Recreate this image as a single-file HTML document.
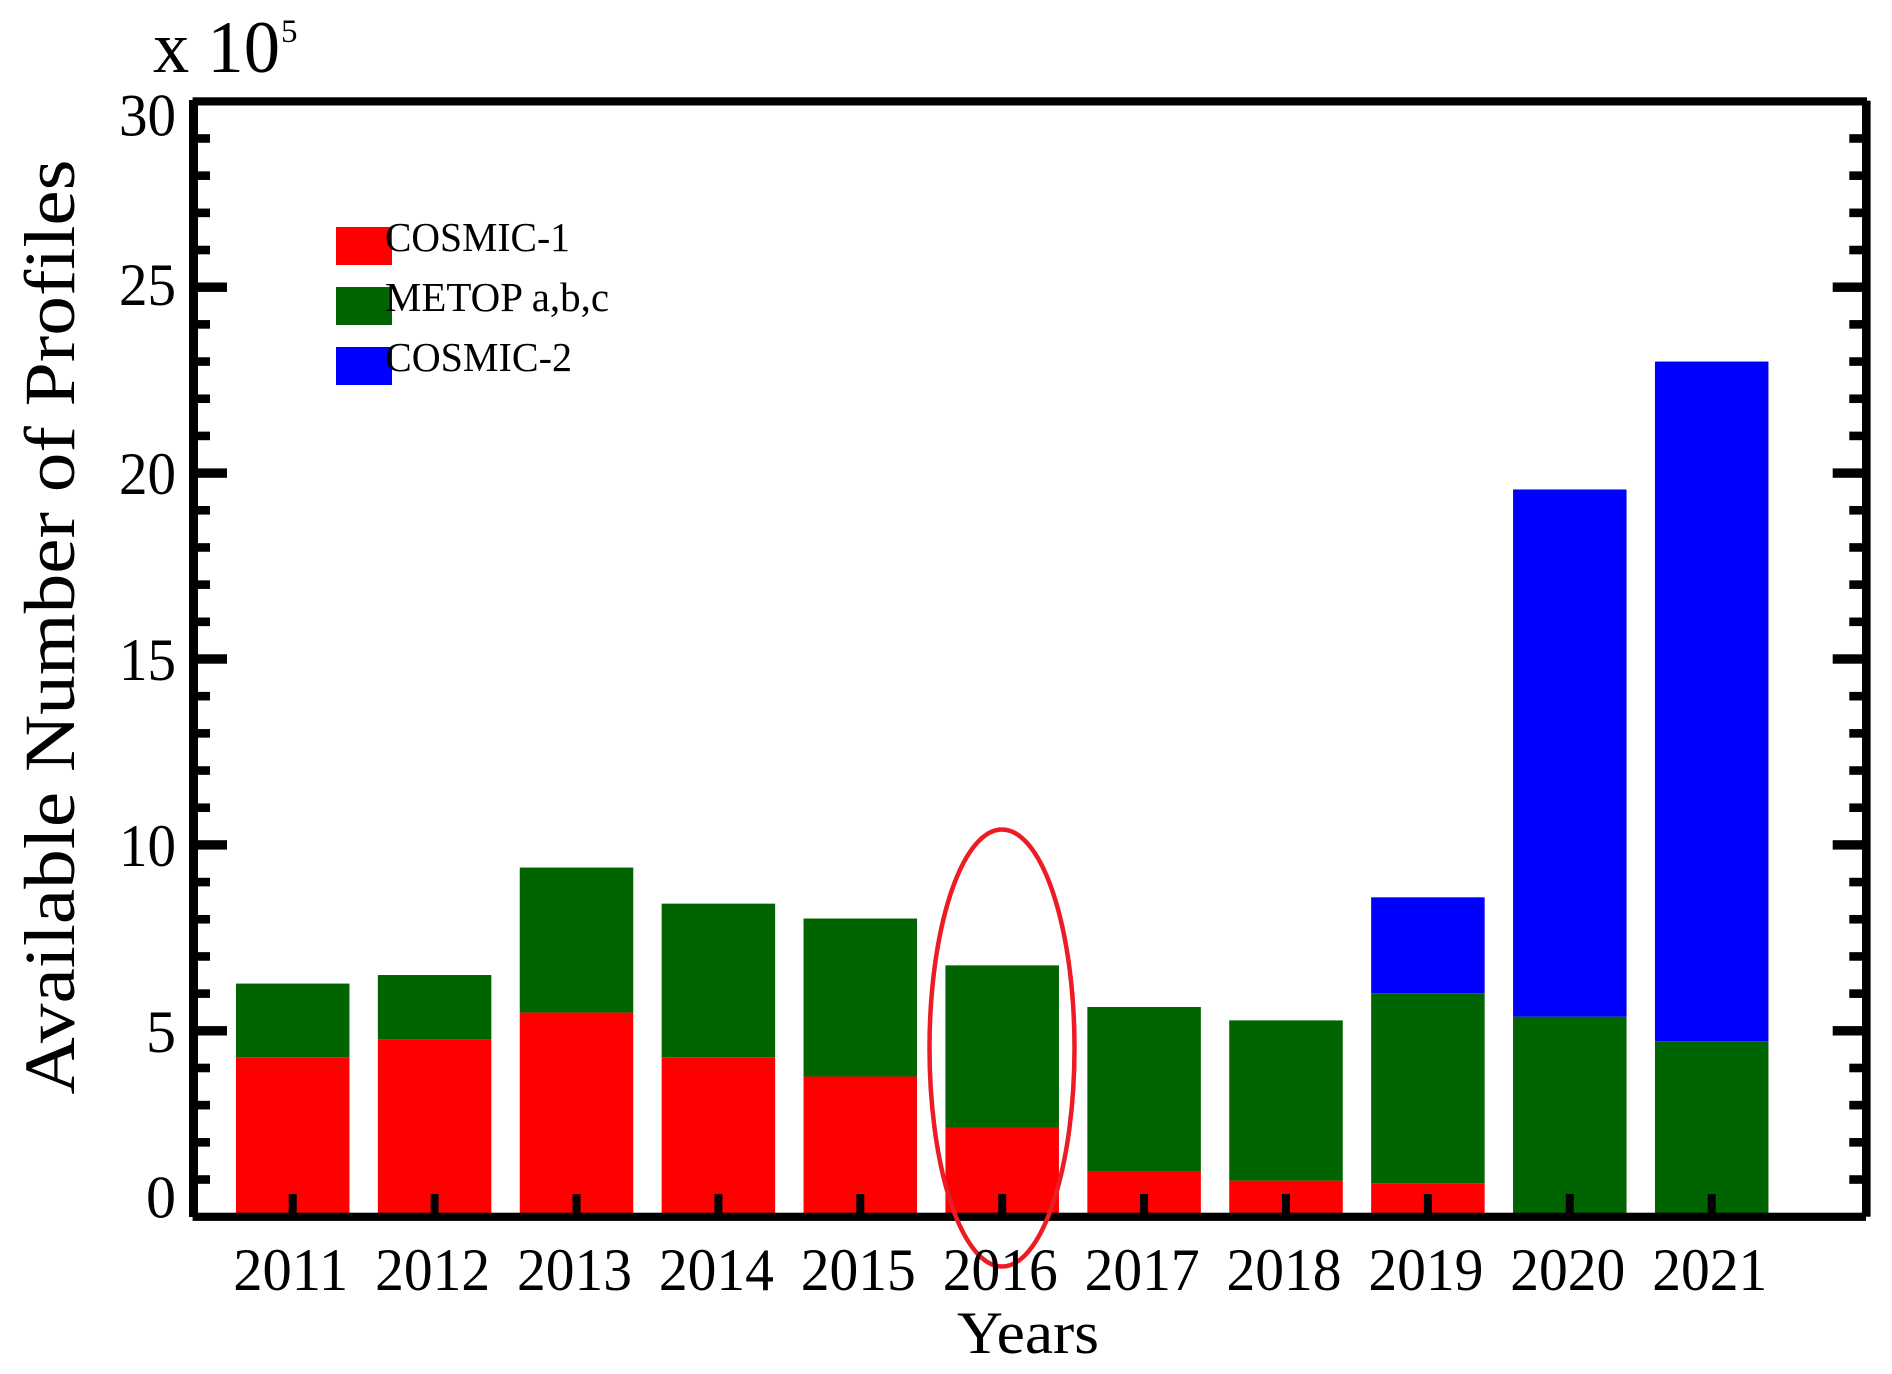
<!DOCTYPE html>
<html lang="en">
<head>
<meta charset="utf-8">
<title>Available Number of Profiles by Year</title>
<style>
html,body{margin:0;padding:0;background:#fff;}
svg{display:block;font-family:"Liberation Serif",serif;fill:#000;}
</style>
</head>
<body>
<svg id="chart" xmlns="http://www.w3.org/2000/svg" width="1892" height="1374" viewBox="0 0 1892 1374">
  <rect x="0" y="0" width="1892" height="1374" fill="#ffffff"/>
  <g id="bars"></g>
  <g id="xticks"></g>
  <g id="yticks"></g>
  <g>
    <rect x="192.6" y="97.3" width="1674.4" height="8.2" fill="#000"/>
    <rect x="192.6" y="1212.7" width="1673.4" height="8.2" fill="#000"/>
    <rect x="189" y="100" width="9" height="1117" fill="#000"/>
    <rect x="1862" y="100.7" width="8.6" height="1116" fill="#000"/>
  </g>
  <ellipse cx="1002" cy="1048" rx="72.5" ry="218.5" fill="none" stroke="#ed1c24" stroke-width="4.5"/>
  <g id="xlabels"></g>
  <g id="ylabels"></g>
  <text x="1028" y="1353" font-size="60" text-anchor="middle" textLength="142" lengthAdjust="spacingAndGlyphs">Years</text>
  <text transform="translate(74,627) rotate(-90)" font-size="72" text-anchor="middle" textLength="935" lengthAdjust="spacingAndGlyphs">Available Number of Profiles</text>
  <g>
    <text x="153" y="72" font-size="74" textLength="127" lengthAdjust="spacingAndGlyphs">x 10</text>
    <text x="281" y="42" font-size="33">5</text>
  </g>
  <g>
    <rect x="336" y="227" width="56" height="38" fill="#ff0000"/>
    <rect x="336" y="287" width="56" height="38" fill="#006400"/>
    <rect x="336" y="347" width="56" height="38" fill="#0000ff"/>
    <text x="385" y="251" font-size="41" textLength="185" lengthAdjust="spacingAndGlyphs">COSMIC-1</text>
    <text x="385" y="311" font-size="41" textLength="224" lengthAdjust="spacingAndGlyphs">METOP a,b,c</text>
    <text x="385" y="371" font-size="41" textLength="187" lengthAdjust="spacingAndGlyphs">COSMIC-2</text>
  </g>
</svg>
<script>
const categories = ["2011","2012","2013","2014","2015","2016","2017","2018","2019","2020","2021"];
const cosmic1 = [4.29,4.77,5.49,4.29,3.77,2.40,1.21,0.97,0.90,0,0];
const metop = [1.98,1.73,3.90,4.13,4.25,4.36,4.43,4.31,5.11,5.38,4.72];
const cosmic2 = [0,0,0,0,0,0,0,0,2.58,14.18,18.28];
const yTickLabels = [0,5,10,15,20,25,30];
const yMinorStep = 1;
const yMax = 30;

const NS = "http://www.w3.org/2000/svg";
const y0 = 1216.7, yTop = 101.3;
function yScale(v){ return y0 - (y0 - yTop) * v / yMax; }
function xScale(i){ return 292.7 + 141.9 * i; }
const barWidth = 113.5;

const bars = document.getElementById("bars");
function addSegment(i, start, value, color, name){
  const r = document.createElementNS(NS, "rect");
  
  
  r.setAttribute("x", xScale(i) - barWidth / 2);
  r.setAttribute("y", yScale(start + value));
  r.setAttribute("width", barWidth);
  r.setAttribute("height", yScale(start) - yScale(start + value));
  r.setAttribute("fill", color);
  bars.appendChild(r);
}
categories.forEach(function(c, i){
  addSegment(i, 0, cosmic1[i], "#ff0000", "cosmic-1");
  addSegment(i, cosmic1[i], metop[i], "#006400", "metop");
  addSegment(i, cosmic1[i] + metop[i], cosmic2[i], "#0000ff", "cosmic-2");
});

const xticks = document.getElementById("xticks");
const xlabels = document.getElementById("xlabels");
categories.forEach(function(c, i){
  const t = document.createElementNS(NS, "rect");
  
  
  t.setAttribute("x", xScale(i) - 4);
  t.setAttribute("y", 1194);
  t.setAttribute("width", 8);
  t.setAttribute("height", 20);
  t.setAttribute("fill", "#000");
  xticks.appendChild(t);
  const l = document.createElementNS(NS, "text");
  
  
  l.setAttribute("x", xScale(i) - 2);
  l.setAttribute("y", 1290);
  l.setAttribute("font-size", 60);
  l.setAttribute("text-anchor", "middle");
  l.setAttribute("textLength", 115);
  l.setAttribute("lengthAdjust", "spacingAndGlyphs");
  l.textContent = c;
  xlabels.appendChild(l);
});

const yticks = document.getElementById("yticks");
function addYTick(x, v, w, h, name){
  const t = document.createElementNS(NS, "rect");
  
  
  t.setAttribute("x", x);
  t.setAttribute("y", yScale(v) - h / 2);
  t.setAttribute("width", w);
  t.setAttribute("height", h);
  t.setAttribute("fill", "#000");
  yticks.appendChild(t);
}
for (let v = yMinorStep; v < yMax; v += yMinorStep) {
  const major = yTickLabels.indexOf(v) >= 0;
  addYTick(196, v, major ? 31 : 14, major ? 9.4 : 8.6, (major ? 'y-major-tick-left-' : 'y-minor-tick-left-') + v);
  addYTick(major ? 1832.7 : 1849.3, v, major ? 31 : 14.7, major ? 9.4 : 8.6, (major ? 'y-major-tick-right-' : 'y-minor-tick-right-') + v);
}

const ylabels = document.getElementById("ylabels");
function yLabelNudge(v){ return v === yMax ? 34 : (v === 0 ? 1 : (v === 25 ? 18 : 21)); }
yTickLabels.forEach(function(v){
  const l = document.createElementNS(NS, "text");
  
  
  l.setAttribute("x", 176);
  l.setAttribute("y", yScale(v) + yLabelNudge(v));
  l.setAttribute("font-size", 60);
  l.setAttribute("text-anchor", "end");
  if (String(v).length === 2) {
    l.setAttribute("textLength", 57);
    l.setAttribute("lengthAdjust", "spacingAndGlyphs");
  }
  l.textContent = v;
  ylabels.appendChild(l);
});
</script>
</body>
</html>
